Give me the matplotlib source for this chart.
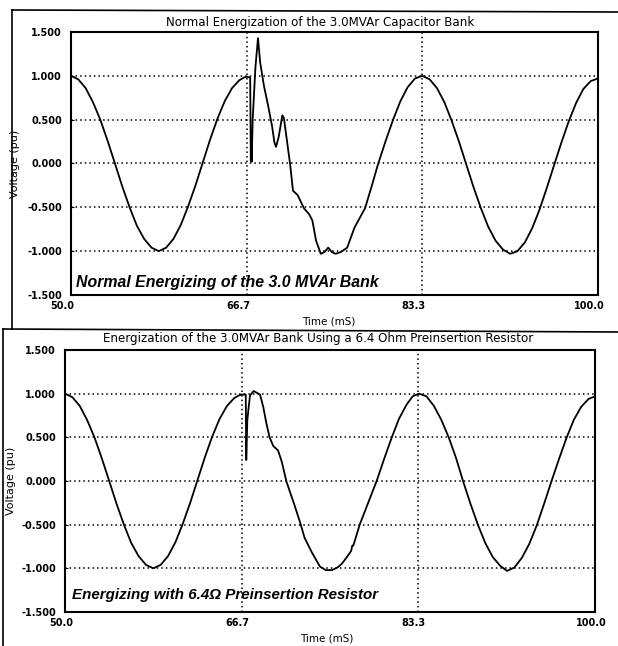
import matplotlib
matplotlib.use('Agg')
import matplotlib.pyplot as plt
from matplotlib.lines import Line2D
from matplotlib.transforms import ScaledTranslation

NARROW = ['DejaVu Sans']
SANS = ['Liberation Sans', 'DejaVu Sans']

# Normal energization (top panel)
t_top = [50.00, 50.69, 51.39, 52.08, 52.78, 53.47, 54.17, 54.86, 55.56, 56.25,
         56.94, 57.64, 58.33, 59.03, 59.72, 60.42, 61.11, 61.81, 62.50, 63.19,
         63.89, 64.58, 65.28, 65.97, 66.40, 66.70, 67.00, 67.06, 67.10, 67.14,
         67.24, 67.50, 67.74, 67.95, 68.30, 68.70, 69.07, 69.30, 69.45, 69.70,
         70.05, 70.20, 70.50, 70.80, 71.06, 71.50, 72.10, 72.60, 72.90, 73.25,
         73.70, 74.05, 74.40, 74.75, 75.10, 75.60, 76.20, 76.90, 77.90, 78.50,
         79.10, 79.86, 80.56, 81.25, 81.94, 82.64, 83.33, 84.03, 84.72, 85.42,
         86.11, 86.81, 87.50, 88.19, 88.89, 89.58, 90.28, 90.97, 91.67, 92.36,
         93.06, 93.75, 94.44, 95.14, 95.83, 96.53, 97.22, 97.92, 98.61, 99.31,
         100.00]
v_top = [1.00, 0.96, 0.86, 0.70, 0.50, 0.26, 0.00, -0.26, -0.50, -0.71,
         -0.86, -0.96, -1.00, -0.96, -0.86, -0.70, -0.49, -0.25, 0.01, 0.27,
         0.51, 0.71, 0.86, 0.95, 0.98, 0.99, 0.98, 0.03, 0.30, 0.02,
         0.51, 1.10, 1.43, 1.15, 0.89, 0.66, 0.43, 0.24, 0.19, 0.30,
         0.55, 0.52, 0.25, -0.02, -0.31, -0.36, -0.51, -0.58, -0.65, -0.88,
         -1.03, -1.01, -0.96, -1.01, -1.03, -1.01, -0.96, -0.73, -0.51, -0.27,
         -0.02, 0.26, 0.50, 0.71, 0.87, 0.97, 1.00, 0.96, 0.86, 0.70,
         0.49, 0.25, -0.01, -0.27, -0.51, -0.72, -0.88, -0.98, -1.03, -1.00,
         -0.90, -0.74, -0.53, -0.28, -0.02, 0.24, 0.48, 0.69, 0.85, 0.94,
         0.97]

# Energization with 6.4 ohm preinsertion resistor (bottom panel)
t_bot = [50.00, 50.69, 51.39, 52.08, 52.78, 53.47, 54.17, 54.86, 55.56, 56.25,
         56.94, 57.64, 58.33, 59.03, 59.72, 60.42, 61.11, 61.81, 62.50, 63.19,
         63.89, 64.58, 65.28, 65.97, 66.40, 66.70, 67.05, 67.10, 67.20, 67.45,
         67.80, 68.10, 68.40, 68.70, 69.00, 69.30, 69.65, 70.10, 70.45, 70.90,
         71.55, 72.17, 72.60, 73.30, 74.05, 74.60, 75.20, 75.70, 76.10, 76.60,
         77.00, 77.10, 77.20, 77.80, 78.60, 79.40, 80.10, 80.80, 81.50, 82.20,
         82.80, 83.40, 84.10, 84.80, 85.50, 86.20, 86.90, 87.55, 88.25, 88.95,
         89.65, 90.35, 91.05, 91.70, 92.40, 93.10, 93.80, 94.50, 95.20, 95.90,
         96.60, 97.30, 98.00, 98.70, 99.40, 100.00]
v_bot = [1.00, 0.96, 0.86, 0.70, 0.50, 0.26, 0.00, -0.26, -0.50, -0.71,
         -0.86, -0.96, -1.00, -0.96, -0.86, -0.70, -0.49, -0.25, 0.01, 0.27,
         0.51, 0.71, 0.86, 0.95, 0.98, 0.99, 0.99, 0.24, 0.70, 0.98,
         1.03, 1.01, 0.99, 0.85, 0.66, 0.50, 0.40, 0.35, 0.22, -0.01,
         -0.24, -0.47, -0.65, -0.82, -0.98, -1.02, -1.02, -0.99, -0.95, -0.87,
         -0.80, -0.74, -0.74, -0.50, -0.25, 0.00, 0.25, 0.49, 0.71, 0.87,
         0.97, 1.00, 0.97, 0.86, 0.70, 0.50, 0.26, 0.00, -0.26, -0.50,
         -0.71, -0.87, -0.97, -1.03, -0.99, -0.88, -0.72, -0.51, -0.26, 0.00,
         0.25, 0.49, 0.70, 0.85, 0.94, 0.97]

x_ticks = [50.0, 66.7, 83.3, 100.0]
y_ticks = [1.5, 1.0, 0.5, 0.0, -0.5, -1.0, -1.5]
y_grid = [1.0, 0.5, 0.0, -0.5, -1.0]
x_grid = [66.7, 83.3]

titles = ['Normal Energization of the 3.0MVAr Capacitor Bank',
          'Energization of the 3.0MVAr Bank Using a 6.4 Ohm Preinsertion Resistor']
notes = ['Normal Energizing of the 3.0 MVAr Bank',
         'Energizing with 6.4\u03a9 Preinsertion Resistor']

fig = plt.figure(figsize=(6.18, 6.46), dpi=100)
W, H = 618, 646


def px_rect(l, t, r, b):
    return [l / W, 1 - b / H, (r - l) / W, (b - t) / H]


panels = [
    dict(rect=px_rect(71, 32, 598, 295), t=t_top, v=v_top, title=titles[0], note=notes[0],
         title_xy=(0.4725, 1.038), note_xy=(0.0095, 0.046), note_size=11.4, ylab_x=-0.097,
         xlab_xy=(0.49, -0.099), xshift=-6),
    dict(rect=px_rect(65, 350, 595, 612), t=t_bot, v=v_bot, title=titles[1], note=notes[1],
         title_xy=(0.477, 1.042), note_xy=(0.013, 0.065), note_size=10.9, ylab_x=-0.092,
         xlab_xy=(0.494, -0.103), xshift=-3),
]

for p in panels:
    ax = fig.add_axes(p['rect'])
    ax.plot(p['t'], p['v'], color='black', lw=1.3, solid_joinstyle='round')
    ax.set_xlim(50, 100)
    ax.set_ylim(-1.5, 1.5)

    for y in y_grid:
        ax.axhline(y, color='black', lw=1.1, ls=(0, (1.0, 2.0)), zorder=0)
    for x in x_grid:
        ax.axvline(x, color='black', lw=1.1, ls=(0, (1.0, 2.0)), zorder=0)

    ax.set_xticks(x_ticks)
    ax.set_xticklabels(['%.1f' % x for x in x_ticks])
    ax.set_yticks(y_ticks)
    ax.set_yticklabels(['%.3f' % y for y in y_ticks])
    ax.tick_params(axis='x', length=0, pad=4.5)
    ax.tick_params(axis='y', length=2, direction='in', pad=6.5)
    for lab in ax.get_xticklabels() + ax.get_yticklabels():
        lab.set_family(NARROW)
        lab.set_fontsize(7)
        lab.set_fontweight('bold')
    offset = ScaledTranslation(p['xshift'] / 72, 0, fig.dpi_scale_trans)
    for lab in ax.get_xticklabels():
        lab.set_transform(lab.get_transform() + offset)

    for s in ax.spines.values():
        s.set_linewidth(1.5)

    ax.set_ylabel('Voltage (pu)', family=NARROW, fontsize=8)
    ax.yaxis.set_label_coords(p['ylab_x'], 0.5)
    ax.set_xlabel('Time (mS)', family=NARROW, fontsize=7.5)
    ax.xaxis.set_label_coords(*p['xlab_xy'])
    ax.xaxis.label.set_va('center')

    ax.text(p['title_xy'][0], p['title_xy'][1], p['title'], transform=ax.transAxes,
            ha='center', va='center', family=NARROW, fontsize=8.6)
    ax.text(p['note_xy'][0], p['note_xy'][1], p['note'], transform=ax.transAxes,
            ha='left', va='center', family=SANS, fontsize=p['note_size'], style='italic',
            fontweight='bold')

# scanned page frame lines around the two panels
fig.add_artist(Line2D([12 / W, 12 / W], [1 - 10 / H, 1 - 329 / H], color='black', lw=1.2))
fig.add_artist(Line2D([12 / W, 1.0], [1 - 10 / H, 1 - 12 / H], color='black', lw=1.2))
fig.add_artist(Line2D([3 / W, 1.0], [1 - 329 / H, 1 - 332 / H], color='black', lw=1.2))
fig.add_artist(Line2D([3 / W, 3 / W], [1 - 329 / H, 0.0], color='black', lw=1.2))

fig.savefig('out.png', dpi=100)
